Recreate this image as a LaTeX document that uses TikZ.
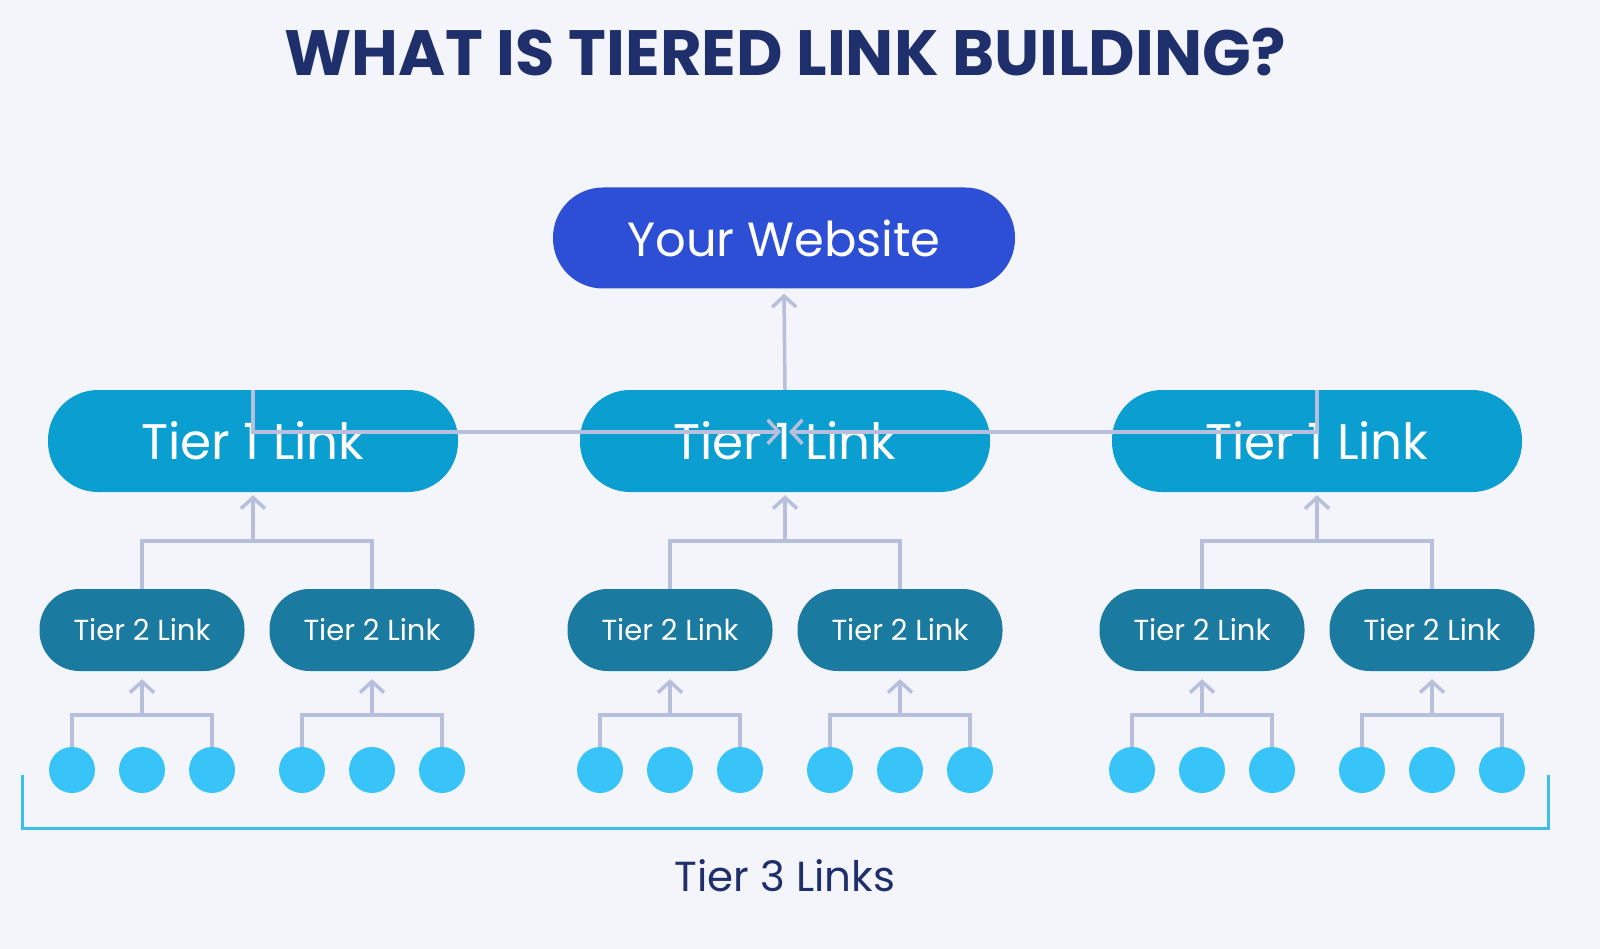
\documentclass[tikz,border=0pt]{standalone}
\usepackage{fontspec}
\setmainfont{Poppins}
\usetikzlibrary{arrows.meta}
\definecolor{bg}{HTML}{F3F5FA}
\definecolor{navy}{HTML}{1F2F6B}
\definecolor{webc}{HTML}{2D4FD6}
\definecolor{t1c}{HTML}{0A9FD0}
\definecolor{t2c}{HTML}{1A7AA0}
\definecolor{dotc}{HTML}{38C4F8}
\definecolor{linec}{HTML}{B8BFDC}
\definecolor{brc}{HTML}{3CC0E8}
\tikzset{
 pill/.style={rounded corners=#1, text=white, inner sep=0pt},
 web/.style={pill=50pt, fill=webc, minimum width=462pt, minimum height=101pt, font=\fontsize{48}{50}\selectfont},
 tone/.style={pill=50pt, fill=t1c, minimum width=410pt, minimum height=102pt, font=\fontsize{50}{52}\selectfont},
 ttwo/.style={pill=40pt, fill=t2c, minimum width=205pt, minimum height=82pt, font=\fontsize{29}{31}\selectfont},
 dot/.style={circle, fill=dotc, minimum size=46pt, inner sep=0pt},
 conn/.style={draw=linec, line width=3.5pt},
 arr/.style={conn, -{Straight Barb[length=11pt,width=24pt,line width=3.5pt]}},
}
\begin{document}
\begin{tikzpicture}[x=1pt,y=-1pt]
\fill[bg] (0,0) rectangle (1600,949);
\useasboundingbox (0,0) rectangle (1600,949);
\node[text=navy, font=\fontsize{64}{66}\selectfont\bfseries] (title) at (785,52) {WHAT IS TIERED LINK BUILDING?};
\node[web] (web) at (784,238) {Your Website};
\node[tone] (a) at (253,441) {Tier 1 Link};
\node[tone] (b) at (785,441) {Tier 1 Link};
\node[tone] (c) at (1317,441) {Tier 1 Link};
\foreach \n/\x in {a1/142,a2/372,b1/670,b2/900,c1/1202,c2/1432}{
 \node[ttwo] (\n) at (\x,630) {Tier 2 Link};
 \node[dot] (\n l) at (\x-70,770) {};
 \node[dot] (\n m) at (\x,770) {};
 \node[dot] (\n r) at (\x+70,770) {};
 \coordinate (\n j) at (\x,715);
 \draw[conn] (\n l.north) |- (\n j) -| (\n r.north);
 \draw[arr] (\n j) -- ([yshift=-8pt]\n.south);
}
\foreach \p in {a,b,c}{
 \coordinate (\p j) at ([yshift=-49pt]\p.south);
 \draw[conn] (\p1.north) |- (\p j) -| (\p2.north);
 \draw[arr] (\p j) -- ([yshift=-3pt]\p.south);
}
\coordinate (mj) at ([yshift=-42pt]b.north);
\draw[arr] (b.north) -- ([yshift=-5pt]web.south);
\draw[conn] (a.north) |- ([xshift=-16pt]mj);
\draw[arr] ([xshift=-20pt]mj) -- ([xshift=-4pt]mj);
\draw[conn] (c.north) |- ([xshift=16pt]mj);
\draw[arr] ([xshift=20pt]mj) -- ([xshift=4pt]mj);
\coordinate (bl) at (22,775);
\coordinate (br) at (1548,775);
\draw[draw=brc, line width=3pt] (bl) -- (22,828) -- (1548,828) -- (br);
\node[text=navy, font=\fontsize{42}{44}\selectfont] (t3) at (785,876) {Tier 3 Links};
\end{tikzpicture}
\end{document}
